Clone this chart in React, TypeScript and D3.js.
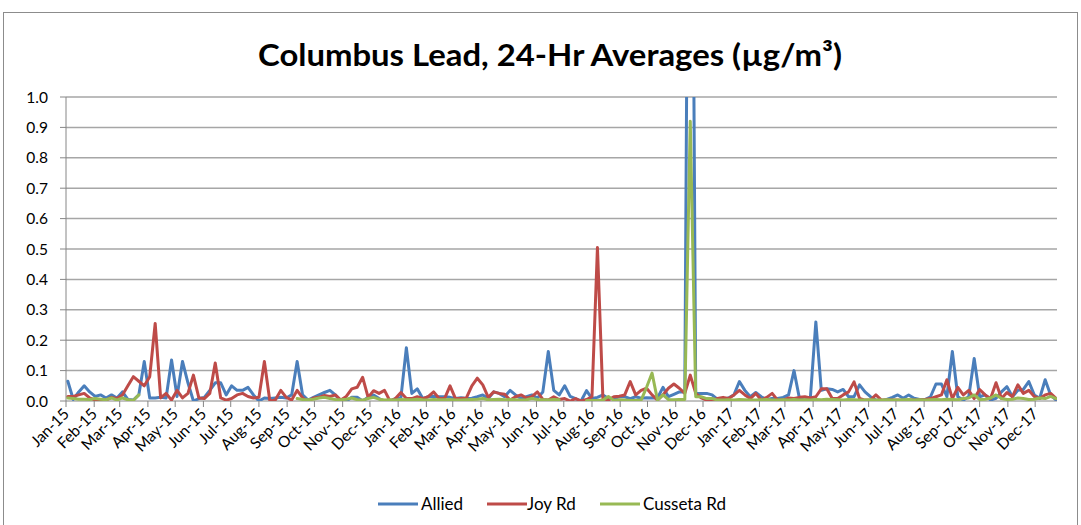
import React from "react";
import * as d3 from "d3";

const TITLE = "Columbus Lead, 24-Hr Averages (µg/m³)";
const SERIES_NAMES = ["Allied", "Joy Rd", "Cusseta Rd"];
const SERIES_COLORS = ["#4A7EBB", "#BE4B48", "#98B954"];
const Y_TICKS = [0, 0.1, 0.2, 0.3, 0.4, 0.5, 0.6, 0.7, 0.8, 0.9, 1.0];
const AXIS_START = "2015-01-01";
const AXIS_END = "2017-12-25";
const SAMPLE_START = "2015-01-03";
const SAMPLE_STEP_DAYS = 6;

const allied: (number | null)[] = [
  0.065, 0.005, 0.03, 0.05, 0.03, 0.015, 0.02, 0.01, 0.02, 0.01,
  0.03, 0.005, 0.003, 0.02, 0.13, 0.01, 0.01, 0.012, 0.01, 0.135,
  0.015, 0.13, 0.06, 0.0, 0.008, 0.012, 0.035, 0.06, 0.06, 0.02,
  0.05, 0.035, 0.035, 0.045, 0.02, 0.0, 0.01, 0.008, 0.01, 0.012,
  0.01, 0.02, 0.13, 0.02, 0.003, 0.012, 0.02, 0.028, 0.035, 0.02,
  0.0, 0.0, 0.012, 0.012, 0.0, 0.012, 0.02, 0.008, 0.0, 0.0,
  0.008, 0.01, 0.175, 0.025, 0.04, 0.008, 0.014, 0.016, 0.014, 0.014,
  0.012, 0.008, 0.011, 0.008, 0.009, 0.014, 0.02, 0.008, 0.03, 0.025,
  0.014, 0.035, 0.02, 0.008, 0.014, 0.02, 0.01, 0.03, 0.163, 0.035,
  0.02, 0.05, 0.015, 0.008, 0.0, 0.034, 0.008, 0.012, 0.02, 0.008,
  0.008, 0.014, 0.014, 0.008, 0.014, 0.009, 0.011, 0.01, 0.01, 0.045,
  0.014, 0.022, 0.03, 0.03, 3.0, 0.025, 0.025, 0.025, 0.02, 0.005,
  0.003, 0.01, 0.02, 0.064, 0.035, 0.014, 0.028, 0.014, 0.005, 0.008,
  0.008, 0.012, 0.02, 0.1, 0.008, 0.003, 0.012, 0.26, 0.035, 0.04,
  0.038, 0.03, 0.038, 0.014, 0.014, 0.053, 0.03, 0.014, 0.003, 0.0,
  0.005, 0.012, 0.02, 0.009, 0.02, 0.009, 0.005, 0.005, 0.014, 0.056,
  0.056, 0.014, 0.163, 0.014, 0.003, 0.014, 0.14, 0.014, 0.02, 0.003,
  0.009, 0.03, 0.047, 0.014, 0.035, 0.038, 0.064, 0.02, 0.009, 0.07,
  0.02, 0.003,
];

const joyRd: (number | null)[] = [
  0.015, 0.015, 0.02, 0.025, 0.01, 0.003, 0.003, 0.003, 0.012, 0.008,
  0.02, 0.05, 0.08, 0.065, 0.05, 0.08, 0.255, 0.01, 0.025, 0.003,
  0.035, 0.01, 0.025, 0.085, 0.01, 0.008, 0.025, 0.125, 0.01, 0.003,
  0.008, 0.02, 0.025, 0.015, 0.01, 0.012, 0.13, 0.0, 0.003, 0.035,
  0.012, 0.003, 0.035, 0.01, 0.0, 0.01, 0.012, 0.018, 0.015, 0.02,
  0.003, 0.015, 0.04, 0.045, 0.078, 0.012, 0.034, 0.025, 0.035, 0.0,
  0.008, 0.028, 0.008, 0.008, 0.014, 0.008, 0.014, 0.03, 0.008, 0.008,
  0.05, 0.008, 0.008, 0.01, 0.05, 0.075, 0.053, 0.012, 0.03, 0.025,
  0.022, 0.003, 0.014, 0.02, 0.01, 0.014, 0.03, 0.005, 0.003, 0.014,
  0.005, 0.008, 0.0, 0.008, 0.0, 0.005, 0.014, 0.505, 0.008, 0.003,
  0.014, 0.016, 0.02, 0.064, 0.02, 0.035, 0.042, 0.02, 0.003, 0.02,
  0.042, 0.056, 0.042, 0.025, 0.085, 0.025, 0.01, 0.003, 0.003, 0.008,
  0.012, 0.008, 0.02, 0.035, 0.02, 0.008, 0.025, 0.003, 0.012, 0.025,
  0.003, 0.003, 0.01, 0.008, 0.012, 0.014, 0.01, 0.014, 0.04, 0.04,
  0.008, 0.008, 0.02, 0.03, 0.063, 0.008, 0.003, 0.003, 0.02, 0.003,
  0.003, 0.003, 0.003, 0.002, 0.003, 0.003, 0.003, 0.005, 0.008, 0.014,
  0.02, 0.07, 0.008, 0.045, 0.02, 0.035, 0.008, 0.038, 0.02, 0.008,
  0.06, 0.008, 0.028, 0.014, 0.053, 0.025, 0.035, 0.015, 0.008, 0.02,
  0.025, 0.008,
];

const cussetaRd: (number | null)[] = [
  0.01, 0.008, 0.006, 0.006, 0.005, 0.008, 0.006, 0.004, 0.01, 0.003,
  0.01, 0.004, 0.002, 0.02, null, null, null, null, null, null,
  null, null, null, null, null, null, null, null, null, null,
  null, null, null, null, null, null, null, null, null, null,
  null, null, 0.008, 0.005, 0.004, 0.006, 0.01, 0.012, 0.008, 0.005,
  0.004, 0.006, 0.01, 0.004, 0.003, 0.008, 0.012, 0.006, 0.003, 0.004,
  0.003, 0.005, 0.004, 0.004, 0.006, 0.004, 0.003, 0.005, 0.004, 0.004,
  0.005, 0.003, 0.003, 0.004, 0.005, 0.006, 0.008, 0.004, 0.005, 0.006,
  0.004, 0.005, 0.004, 0.003, 0.004, 0.008, 0.005, 0.004, 0.003, 0.005,
  0.004, null, null, null, null, 0.002, 0.002, 0.002, 0.003, 0.015,
  0.002, 0.004, 0.003, 0.002, 0.002, 0.003, 0.045, 0.092, 0.003, 0.02,
  0.005, 0.004, 0.005, 0.005, 0.92, 0.014, 0.014, 0.008, 0.008, 0.003,
  0.003, 0.004, 0.003, 0.005, 0.004, 0.003, 0.003, 0.004, 0.005, 0.003,
  0.003, 0.004, 0.003, 0.005, 0.003, 0.004, 0.003, 0.005, 0.004, 0.006,
  0.005, 0.004, 0.003, 0.005, 0.004, 0.003, 0.003, 0.004, 0.003, 0.003,
  0.004, 0.003, 0.003, 0.004, 0.005, 0.003, 0.004, 0.003, 0.004, 0.005,
  0.004, 0.006, 0.005, 0.004, 0.008, 0.01, 0.02, 0.005, 0.006, 0.01,
  0.02, 0.008, 0.005, 0.006, 0.01, 0.008, 0.005, 0.006, 0.01, 0.008,
  0.015, 0.008,
];

const SERIES = [allied, joyRd, cussetaRd];

const W = 1081;
const H = 525;
const PLOT = { left: 66, right: 1057, top: 97, bottom: 401 };
const FONT = "Lato, 'Open Sans', sans-serif";

export default function App() {
  const parse = d3.timeParse("%Y-%m-%d");
  const axisStart = parse(AXIS_START)!;
  const axisEnd = parse(AXIS_END)!;
  const sampleStart = parse(SAMPLE_START)!;
  const dates = allied.map((_, i) => d3.timeDay.offset(sampleStart, i * SAMPLE_STEP_DAYS));

  const x = d3.scaleTime().domain([axisStart, axisEnd]).range([PLOT.left, PLOT.right]);
  const y = d3.scaleLinear().domain([0, 1]).range([PLOT.bottom, PLOT.top]);

  const months = d3.timeMonth.range(axisStart, d3.timeDay.offset(axisEnd, -20));
  const fmt = d3.timeFormat("%b-%y");

  const line = d3
    .line<number | null>()
    .defined((d) => d !== null)
    .x((_, i) => x(dates[i]))
    .y((d) => y(d as number));

  const legendItems = [
    { name: SERIES_NAMES[0], lx: 378, tx: 421 },
    { name: SERIES_NAMES[1], lx: 487, tx: 527 },
    { name: SERIES_NAMES[2], lx: 600, tx: 643 },
  ];

  return (
    <svg
      width={W}
      height={H}
      style={{ position: "absolute", left: 0, top: 0, background: "#fff" }}
      fontFamily={FONT}
    >
      <defs>
        <clipPath id="plotClip">
          <rect x={PLOT.left} y={PLOT.top} width={PLOT.right - PLOT.left} height={PLOT.bottom - PLOT.top} />
        </clipPath>
      </defs>
      <rect x={3.5} y={12.5} width={1074} height={520} fill="#fff" stroke="#8c8c8c" strokeWidth={1} />
      <text
        x={550}
        y={66}
        textAnchor="middle"
        fontSize={31}
        fontWeight="bold"
        fill="#000"
        textLength={584}
        lengthAdjust="spacingAndGlyphs"
      >
        {TITLE}
      </text>

      {Y_TICKS.map((t) => (
        <g key={t}>
          {t > 0 && (
            <line x1={PLOT.left} x2={PLOT.right} y1={y(t)} y2={y(t)} stroke="#a6a6a6" strokeWidth={1.5} />
          )}
          <line x1={PLOT.left - 6} x2={PLOT.left} y1={y(t)} y2={y(t)} stroke="#868686" strokeWidth={1} />
          <text x={48} y={y(t) + 5.5} textAnchor="end" fontSize={15.5} fill="#000">
            {t.toFixed(1)}
          </text>
        </g>
      ))}

      <line x1={PLOT.left} x2={PLOT.left} y1={PLOT.top} y2={PLOT.bottom} stroke="#868686" strokeWidth={1} />
      <line x1={PLOT.left} x2={PLOT.right} y1={PLOT.bottom} y2={PLOT.bottom} stroke="#868686" strokeWidth={1} />

      {months.map((m) => {
        const mx = x(m);
        return (
          <g key={m.toISOString()}>
            <line x1={mx} x2={mx} y1={PLOT.bottom} y2={PLOT.bottom + 6} stroke="#868686" strokeWidth={1} />
            <text
              transform={`translate(${mx + 4},${PLOT.bottom + 14}) rotate(-45)`}
              textAnchor="end"
              fontSize={15.5}
              fill="#000"
            >
              {fmt(m)}
            </text>
          </g>
        );
      })}

      <g clipPath="url(#plotClip)">
        {SERIES.map((s, k) => (
          <path
            key={k}
            d={line(s) || ""}
            fill="none"
            stroke={SERIES_COLORS[k]}
            strokeWidth={3}
            strokeLinejoin="round"
            strokeLinecap="round"
          />
        ))}
      </g>

      {legendItems.map((it, k) => (
        <g key={it.name}>
          <line x1={it.lx} x2={it.lx + 40} y1={504} y2={504} stroke={SERIES_COLORS[k]} strokeWidth={3} />
          <text x={it.tx} y={510} fontSize={17} fill="#000">
            {it.name}
          </text>
        </g>
      ))}
    </svg>
  );
}
